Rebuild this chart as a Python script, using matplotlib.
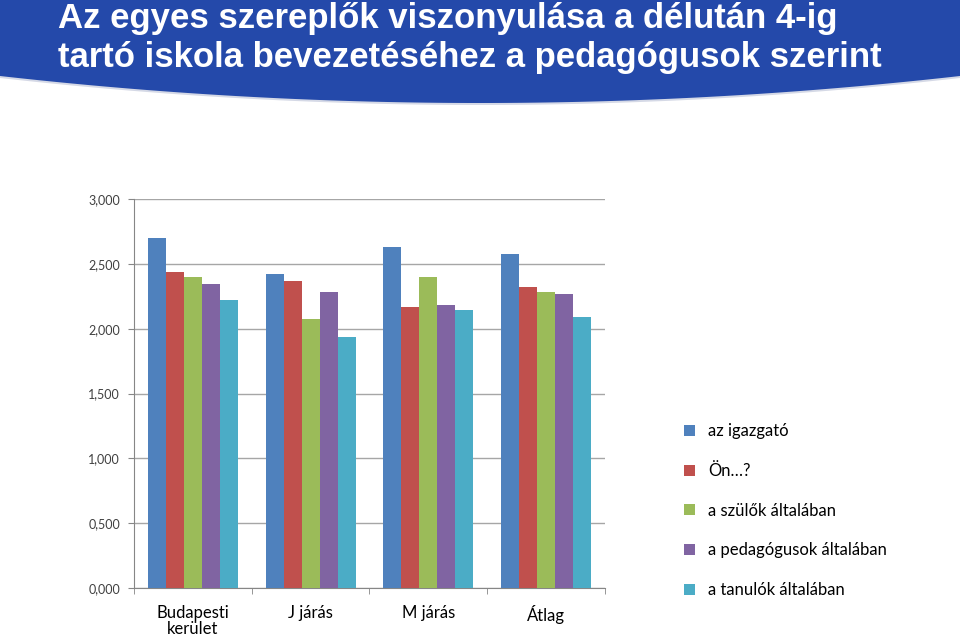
import numpy as np
import matplotlib
matplotlib.use("Agg")
import matplotlib.pyplot as plt

# data
categories = ["Budapesti\nkerület", "J járás", "M járás", "Átlag"]
series_names = ["az igazgató", "Ön…?", "a szülők általában",
                "a pedagógusok általában", "a tanulók általában"]
igazgato = [2.700, 2.421, 2.632, 2.577]
on = [2.434, 2.364, 2.164, 2.318]
szulok = [2.395, 2.077, 2.395, 2.282]
pedagogusok = [2.342, 2.282, 2.180, 2.264]
tanulok = [2.218, 1.933, 2.141, 2.089]
series_colors = ["#4F81BD", "#C0504D", "#9BBB59", "#8064A2", "#4BACC6"]
title_lines = ["Az egyes szereplők viszonyulása a délután 4-ig",
               "tartó iskola bevezetéséhez a pedagógusok szerint"]

plt.rcParams['font.family'] = ['Lato', 'DejaVu Sans']

W, H = 960, 638
fig = plt.figure(figsize=(W / 100, H / 100), dpi=100)

# blue banner with curved lower edge
bg = fig.add_axes([0, 0, 1, 1], zorder=-5)
bg.set_xlim(0, W)
bg.set_ylim(H, 0)
bg.axis("off")
xs = np.linspace(0, W, 200)
edge = 103 - 27 * ((xs - W / 2) / (W / 2)) ** 2
bg.fill_between(xs, 0, edge + 2, color="#D5D9E6", lw=0)
bg.fill_between(xs, 0, edge, color="#2449AA", lw=0)
for i, line in enumerate(title_lines):
    fig.text(58 / W, 1 - (28 + 39 * i) / H, line, color="white",
             fontsize=25, fontweight="bold", family="Liberation Sans",
             va="baseline", ha="left")

# chart
ax = fig.add_axes([134 / W, 50 / H, (605 - 134) / W, (588 - 199) / H])
values = [igazgato, on, szulok, pedagogusok, tanulok]
x = np.arange(len(categories))
bw = 18 / 118
for k, (vals, name, col) in enumerate(zip(values, series_names, series_colors)):
    ax.bar(x + (k - 2) * bw, vals, width=bw, color=col, label=name, zorder=3)

ax.set_xlim(-0.5, len(categories) - 0.5)
ax.set_ylim(0, 3)
ax.set_yticks(np.arange(0, 3.01, 0.5))
ax.set_yticklabels([f"{v:.3f}".replace(".", ",") for v in np.arange(0, 3.01, 0.5)])
ax.yaxis.grid(True, color="#A6A6A6", lw=1)
ax.set_axisbelow(True)
ax.tick_params(axis="y", labelsize=9, colors="#868686", labelcolor="#404040",
               length=4, pad=6)
ax.set_xticks(x)
ax.set_xticklabels(categories, fontsize=12, linespacing=1.05)
ax.set_xticks(np.arange(-0.5, len(categories)), minor=True)
ax.tick_params(axis="x", which="major", length=0, pad=12)
ax.tick_params(axis="x", which="minor", length=4, color="#868686")
for s in ["top", "right"]:
    ax.spines[s].set_visible(False)
for s in ["left", "bottom"]:
    ax.spines[s].set_color("#868686")

leg = ax.legend(loc="upper left", bbox_to_anchor=(676 / W, 1 - 415 / H),
                bbox_transform=fig.transFigure, frameon=False, fontsize=12,
                handlelength=0.65, handleheight=0.65, handletextpad=0.8,
                labelspacing=1.42, borderpad=0)

fig.savefig("out.png", dpi=100)
